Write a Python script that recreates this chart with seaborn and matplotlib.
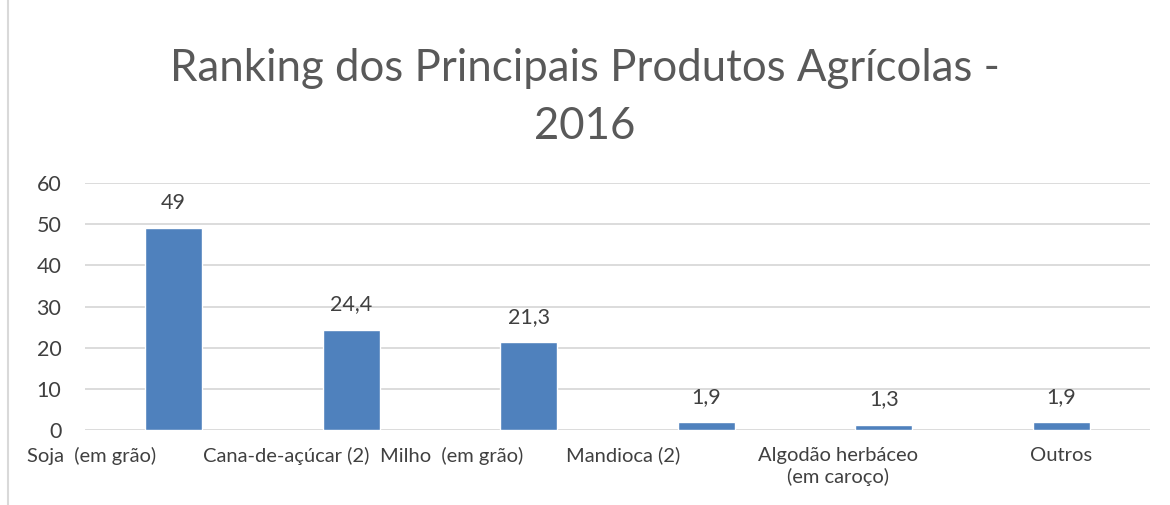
import matplotlib
matplotlib.use("Agg")
import matplotlib.pyplot as plt
import matplotlib.transforms as mtransforms
from matplotlib.lines import Line2D
import seaborn as sns
import pandas as pd

categories = ["Soja  (em grão)", "Cana-de-açúcar (2)", "Milho  (em grão)",
              "Mandioca (2)", "Algodão herbáceo\n(em caroço)", "Outros"]
values = [49, 24.4, 21.3, 1.9, 1.3, 1.9]
yticks = [0, 10, 20, 30, 40, 50, 60]
title = "Ranking dos Principais Produtos Agrícolas -\n2016"

sns.set_theme(style="white")
plt.rcParams["font.family"] = ["Lato", "DejaVu Sans"]

df = pd.DataFrame({"cat": categories, "val": values})

fig = plt.figure(figsize=(11.7, 5.05), dpi=100)
ax = fig.add_axes([0.0726, 0.1485, 0.9104, 0.4891])

sns.barplot(data=df, x="cat", y="val", color="#4F81BD", width=0.32,
            saturation=1, ax=ax, zorder=3)

ax.set_ylim(0, 60)
ax.set_xlim(-0.5, len(categories) - 0.5)
ax.set_yticks(yticks)
ax.set_yticklabels([str(t) for t in yticks])
ax.yaxis.grid(True, color="#D9D9D9", linewidth=1.3, zorder=0)
ax.set_axisbelow(True)
for s in ax.spines.values():
    s.set_visible(False)
ax.tick_params(axis="both", length=0, labelsize=15.5, colors="#404040")
ax.tick_params(axis="y", pad=17)
ax.tick_params(axis="x", pad=12)
ax.set_xlabel("")
ax.set_ylabel("")

# Excel-like offset of category labels
offsets = [-82, -65, -77, -83, -46, 0]
for lab, off in zip(ax.get_xticklabels(), offsets):
    lab.set_transform(lab.get_transform() +
                      mtransforms.ScaledTranslation(off / 100, 0, fig.dpi_scale_trans))
    lab.set_fontsize(14.5)
    lab.set_linespacing(1.25)

labels = [f"{v:g}".replace(".", ",") for v in values]
ax.bar_label(ax.containers[0], labels=labels, padding=11, fontsize=15.5, color="#404040")

fig.text(0.5, 0.807, title, ha="center", va="center", fontsize=31.5,
         color="#595959", linespacing=1.5)

fig.add_artist(Line2D([0.007, 0.007], [0, 1], transform=fig.transFigure,
                      color="#D9D9D9", linewidth=1.5))

fig.savefig("out.png", dpi=100)
